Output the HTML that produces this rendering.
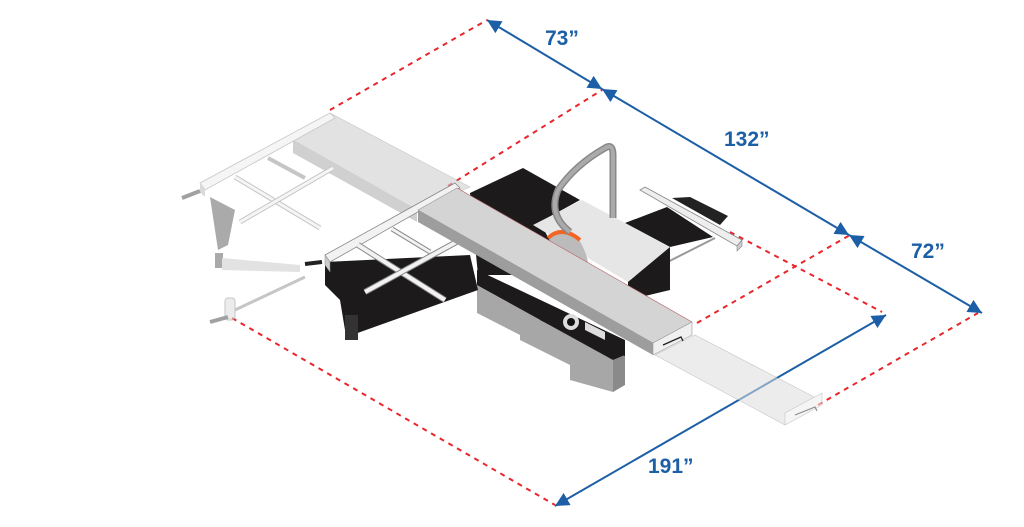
<!DOCTYPE html>
<html><head><meta charset="utf-8"><style>
html,body{margin:0;padding:0;background:#fff;width:1024px;height:527px;overflow:hidden}
svg{display:block}
text{font-family:"Liberation Sans",sans-serif;font-weight:bold;fill:#1d5fa6;font-size:21px}
</style></head><body>
<svg width="1024" height="527" viewBox="0 0 1024 527" xmlns="http://www.w3.org/2000/svg">
<defs>
<marker id="a" viewBox="0 0 10 10" refX="10" refY="5" markerWidth="7" markerHeight="7" orient="auto-start-reverse"><path d="M0,0 L10,5 L0,10 z" fill="#1d5fa6"/></marker>
</defs>
<g stroke="#e8262b" stroke-width="2" stroke-dasharray="5,5" fill="none">
<line x1="330" y1="110" x2="487" y2="20"/>
<line x1="448" y1="186" x2="602" y2="90"/>
<line x1="697" y1="323" x2="850" y2="235"/>
<line x1="730" y1="232" x2="882" y2="312"/>
<line x1="818" y1="405" x2="978" y2="313"/>
<line x1="232" y1="318" x2="555" y2="505"/>
</g>
<g stroke="#1d5fa6" stroke-width="2" fill="none">
<line x1="487" y1="20" x2="602" y2="89" marker-start="url(#a)" marker-end="url(#a)"/>
<line x1="602" y1="89" x2="849" y2="235" marker-start="url(#a)" marker-end="url(#a)"/>
<line x1="849" y1="235" x2="982" y2="313" marker-start="url(#a)" marker-end="url(#a)"/>
<line x1="555" y1="506" x2="886" y2="315" marker-start="url(#a)" marker-end="url(#a)"/>
</g>
<text x="545" y="45">73”</text>
<text x="724" y="146">132”</text>
<text x="911" y="258">72”</text>
<text x="648" y="473">191”</text>

<g opacity="0.55">
<polygon points="293,140 330,113 470,187 417,210" fill="#ccc" stroke="#999" stroke-width="0.6"/>
<polygon points="293,140 417,210 417,222 293,153" fill="#aaa"/>
<polygon points="200,183 330,113 335,118 205,190" fill="#eee" stroke="#999" stroke-width="0.8"/>
<polygon points="200,183 205,190 205,197 200,192" fill="#bbb"/>
<line x1="235" y1="177" x2="320" y2="228" stroke="#999" stroke-width="5"/>
<line x1="235" y1="177" x2="320" y2="228" stroke="#eee" stroke-width="3"/>
<line x1="240" y1="222" x2="333" y2="168" stroke="#999" stroke-width="5"/>
<line x1="240" y1="222" x2="333" y2="168" stroke="#eee" stroke-width="3"/>
<line x1="268" y1="158" x2="305" y2="178" stroke="#999" stroke-width="4"/>
<polygon points="210,197 235,210 228,245 218,250" fill="#666"/>
<rect x="215" y="253" width="8" height="15" fill="#666"/>
<polygon points="222,258 300,265 300,272 222,270" fill="#ccc"/>
<line x1="235" y1="310" x2="305" y2="277" stroke="#999" stroke-width="3"/>
<rect x="225" y="298" width="10" height="22" rx="3" fill="#ddd" stroke="#999"/>
<line x1="210" y1="322" x2="228" y2="317" stroke="#555" stroke-width="4"/>
<line x1="182" y1="198" x2="200" y2="191" stroke="#555" stroke-width="4"/>
</g>
<g opacity="0.55">
<polygon points="655,355 695,335 820,400 785,425" fill="#ddd" stroke="#999" stroke-width="0.6"/>
<polygon points="785,413 822,393 822,405 785,425" fill="#eee" stroke="#999" stroke-width="0.6"/>
<path d="M795,415 l20,-8 l2,4" stroke="#333" fill="none" stroke-width="1.2"/>
</g>

<polygon points="625,223 667,207 713,237 670,247" fill="#1c1a1a"/>
<polygon points="672,198 690,197 728,216 720,225" fill="#222"/>
<polygon points="640,190 645,187 742,240 737,246" fill="#eee" stroke="#888" stroke-width="0.8"/>
<polygon points="737,246 742,240 742,246 737,251" fill="#ccc" stroke="#888" stroke-width="0.6"/>
<line x1="628" y1="282" x2="715" y2="238" stroke="#999" stroke-width="2"/>
<polygon points="470,193 523,168 580,200 540,222 560,260 540,275 478,275" fill="#1c1a1a"/>
<polygon points="533,225 582,200 670,247 628,282" fill="#e6e6e6"/>
<polygon points="628,282 670,247 670,290 628,300" fill="#1c1a1a"/>
<path d="M548,237 Q562,228 578,238 Q590,258 588,270 L560,265 Z" fill="#bbb"/>
<path d="M548,238 Q562,225 580,240" stroke="#f26522" stroke-width="4" fill="none"/>
<path d="M570,232 Q548,215 558,190 Q575,165 605,148 Q613,143 613,155 L613,218" stroke="#888" stroke-width="7" fill="none" stroke-linejoin="round"/>
<path d="M570,232 Q548,215 558,190 Q575,165 605,148 Q613,143 613,155 L613,218" stroke="#aaa" stroke-width="4" fill="none" stroke-linejoin="round"/>
<polygon points="477,270 477,313 520,335 520,340 570,365 570,380 613,392 613,360" fill="#a7a7a7"/>
<polygon points="613,360 625,355 625,385 613,392" fill="#8a8a8a"/>
<polygon points="477,270 625,340 625,355 613,360 477,285" fill="#1c1a1a"/>
<polygon points="540,300 625,345 625,356 590,345 540,320" fill="#1c1a1a"/>
<circle cx="571" cy="322" r="8" fill="#ddd"/><circle cx="571" cy="322" r="4" fill="#111"/>
<polygon points="585,322 605,332 605,340 585,330" fill="#ddd"/>

<polygon points="325,262 470,255 478,290 352,335 345,330 340,300 325,285" fill="#1c1a1a"/>
<polygon points="345,315 358,315 358,340 345,340" fill="#333"/>
<line x1="305" y1="264" x2="322" y2="262" stroke="#222" stroke-width="4"/>
<polygon points="325,255 455,183 460,188 330,262" fill="#f2f2f2" stroke="#888" stroke-width="0.8"/>
<polygon points="325,255 330,262 330,272 325,265" fill="#ccc" stroke="#888" stroke-width="0.5"/>
<line x1="358" y1="245" x2="445" y2="300" stroke="#888" stroke-width="6"/>
<line x1="358" y1="245" x2="445" y2="300" stroke="#f2f2f2" stroke-width="4"/>
<line x1="365" y1="292" x2="460" y2="240" stroke="#888" stroke-width="6"/>
<line x1="365" y1="292" x2="460" y2="240" stroke="#f2f2f2" stroke-width="4"/>
<line x1="392" y1="229" x2="430" y2="252" stroke="#888" stroke-width="5"/>
<line x1="392" y1="229" x2="430" y2="252" stroke="#f2f2f2" stroke-width="3"/>

<polygon points="418,210 457,188 692,322 653,343" fill="#d4d4d4" stroke="#999" stroke-width="0.6"/>
<polygon points="418,210 653,343 653,355 418,222" fill="#9d9d9d"/>
<polygon points="653,343 692,322 692,335 653,355" fill="#f0f0f0" stroke="#999" stroke-width="0.6"/>
<path d="M663,345 l18,-8 l2,4" stroke="#222" fill="none" stroke-width="1.3"/>
<line x1="457" y1="188" x2="692" y2="322" stroke="#e8262b" stroke-width="0.5" opacity="0.6"/>
</svg>
</body></html>
